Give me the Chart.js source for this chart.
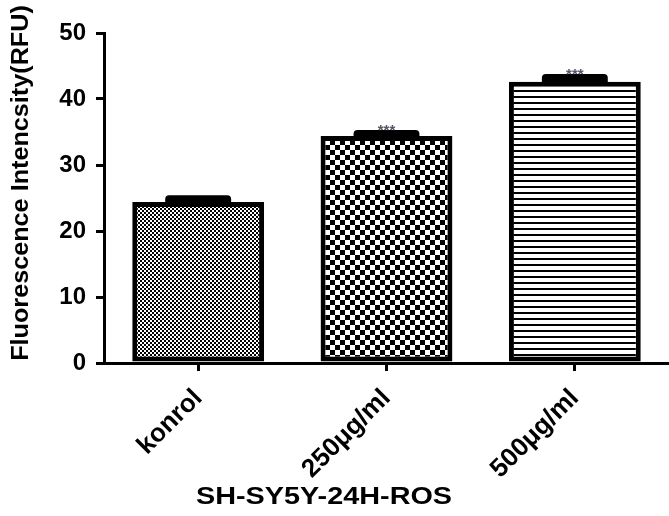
<!DOCTYPE html>
<html>
<head>
<meta charset="utf-8">
<script src="https://cdn.jsdelivr.net/npm/chart.js@4/dist/chart.umd.min.js"></script>
<style>
  body { margin: 0; background: #fff; }
</style>
</head>
<body>
<canvas id="chart" width="669" height="516"></canvas>
<script>
const categories = ['konrol', '250μg/ml', '500μg/ml'];
const values = [24.4, 34.4, 42.6];
const errors = [1.0, 0.9, 1.2];
const stars = ['', '***', '***'];
const yTicks = [0, 10, 20, 30, 40, 50];
const xTitle = 'SH-SY5Y-24H-ROS';
const yTitle = 'Fluorescence Intencsity(RFU)';

// hatch fills like the prism original
function makePattern(kind) {
    const c = document.createElement('canvas');
    const g = c.getContext('2d');
    if (kind === 'fine') {
        c.width = 4; c.height = 4;
        g.fillStyle = '#fff'; g.fillRect(0, 0, 4, 4);
        g.fillStyle = '#000';
        g.fillRect(0, 0, 2, 2); g.fillRect(2, 2, 2, 2);
    } else if (kind === 'checker') {
        c.width = 10; c.height = 10;
        g.fillStyle = '#fff'; g.fillRect(0, 0, 10, 10);
        g.fillStyle = '#000';
        g.fillRect(0, 0, 5, 5); g.fillRect(5, 5, 5, 5);
    } else {
        c.width = 4; c.height = 6;
        g.fillStyle = '#fff'; g.fillRect(0, 0, 4, 6);
        g.fillStyle = '#000';
        g.fillRect(0, 0, 4, 2);
    }
    return g.createPattern(c, 'repeat');
}

const errorBars = {
    id: 'errorBars',
    afterDatasetsDraw(chart) {
        const ctx = chart.ctx;
        const y = chart.scales.y;
        const meta = chart.getDatasetMeta(0);
        ctx.save();
        meta.data.forEach((bar, i) => {
            const top = y.getPixelForValue(values[i] + errors[i]);
            const base = y.getPixelForValue(values[i]);
            const w = bar.width * 0.5;
            ctx.fillStyle = '#000';
            ctx.beginPath();
            ctx.roundRect(bar.x - w / 2, top, w, base - top + 2, [4, 4, 0, 0]);
            ctx.fill();
            if (stars[i]) {
                ctx.fillStyle = '#556';
                ctx.font = 'bold 15px "Liberation Sans", Arial';
                ctx.textAlign = 'center';
                ctx.textBaseline = 'bottom';
                ctx.fillText(stars[i], bar.x, top + 8);
            }
        });
        ctx.restore();
    }
};

const axisTitles = {
    id: 'axisTitles',
    afterDraw(chart) {
        const ctx = chart.ctx;
        const a = chart.chartArea;
        ctx.save();
        ctx.fillStyle = '#000';
        ctx.textAlign = 'center';
        ctx.textBaseline = 'middle';
        ctx.save();
        ctx.translate(a.left + 220, 497);
        ctx.scale(1.2, 1);
        ctx.font = 'bold 24px "Liberation Sans", Arial';
        ctx.fillText(xTitle, 0, 0);
        ctx.restore();
        ctx.translate(21, (a.top + a.bottom) / 2 - 15);
        ctx.rotate(-Math.PI / 2);
        ctx.scale(1.05, 1);
        ctx.font = 'bold 24px "Liberation Sans", Arial';
        ctx.fillText(yTitle, 0, 0);
        ctx.restore();
    }
};

const ctx = document.getElementById('chart').getContext('2d');
new Chart(ctx, {
    type: 'bar',
    data: {
        labels: categories,
        datasets: [{
            data: values,
            backgroundColor: [makePattern('fine'), makePattern('checker'), makePattern('lines')],
            borderColor: '#000',
            borderWidth: 5,
            borderSkipped: false,
            categoryPercentage: 0.7,
            barPercentage: 1
        }]
    },
    options: {
        responsive: false,
        animation: false,
        layout: { padding: { top: 33, right: 0, left: 0, bottom: 0 } },
        plugins: { legend: { display: false }, tooltip: { enabled: false } },
        scales: {
            x: {
                afterFit(s) { s.height = 153; },
                border: { color: '#000', width: 3 },
                grid: { offset: false, drawOnChartArea: false, drawTicks: true, tickLength: 8, color: '#000', lineWidth: 3 },
                ticks: {
                    color: '#000',
                    padding: 12,
                    minRotation: 45, maxRotation: 45,
                    font: { family: '"Liberation Sans", Arial', size: 26, weight: 'bold' }
                }
            },
            y: {
                min: 0, max: 50,
                afterFit(s) { s.width = 104; },
                afterBuildTicks(s) { s.ticks = yTicks.map(v => ({ value: v })); },
                border: { color: '#000', width: 3 },
                grid: { drawOnChartArea: false, drawTicks: true, tickLength: 8, color: '#000', lineWidth: 3 },
                ticks: {
                    color: '#000',
                    padding: 10,
                    font: { family: '"Liberation Sans", Arial', size: 24, weight: 'bold' }
                }
            }
        }
    },
    plugins: [errorBars, axisTitles]
});
</script>
</body>
</html>
